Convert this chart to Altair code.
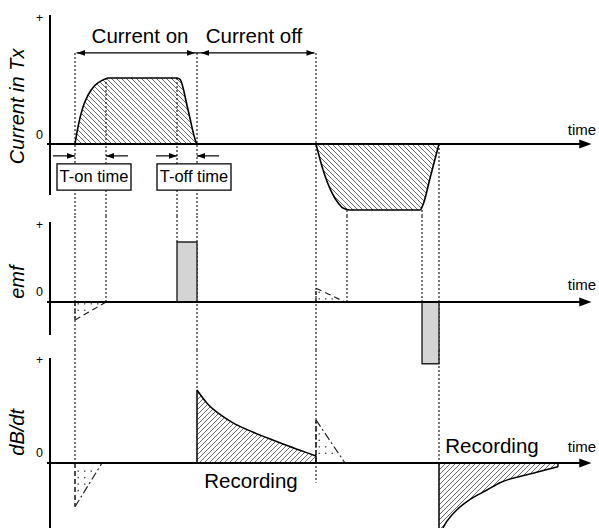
import altair as alt
import numpy as np
import pandas as pd

FONT = "Liberation Sans"
WIDTH = 599
T_DOMAIN = [-10.0, 109.8]                      # time axis origin sits 50 px from the left
KX = WIDTH / (T_DOMAIN[1] - T_DOMAIN[0])       # px per time unit

# panel: (height px, zero line offset from panel top px, px per amplitude unit)
PANELS = {"current": (216, 144, 66.0), "emf": (134, 86, 60.0), "dbdt": (178, 113, 73.0)}

# switching instants
T1, T2, T3, T4 = 5.0, 11.2, 25.4, 29.4
T5, T6, T7, T8 = 53.2, 59.4, 74.4, 77.8

# transmitter current
cur_pos_t = [5.0, 5.6, 6.6, 7.6, 9.0, 10.6, 11.6, 25.4, 26.0, 27.6, 29.2, 29.4]
cur_pos_v = [0.0, 0.26, 0.56, 0.74, 0.89, 0.97, 1.0, 1.0, 0.98, 0.52, 0.03, 0.0]
cur_neg_t = [53.2, 54.6, 56.4, 57.6, 58.6, 60.0, 74.0, 74.6, 76.0, 77.8]
cur_neg_v = [0.0, -0.39, -0.74, -0.89, -0.97, -1.0, -1.0, -0.92, -0.52, 0.0]

# induced emf pulses during the switch-off ramps
emf_bar_t0 = [T3, T7]
emf_bar_t1 = [T4, T8]
emf_bar_v = [1.0, -1.03]

# dB/dt decays after switch-off
dbdt_pos_t = [29.4, 31.4, 34.0, 36.6, 40.0, 43.4, 46.6, 50.0, 53.2]
dbdt_pos_v = [1.0, 0.82, 0.665, 0.55, 0.44, 0.345, 0.26, 0.175, 0.095]
dbdt_neg_t = [77.8, 79.0, 81.4, 84.0, 87.4, 90.0, 96.6, 101.6]
dbdt_neg_v = [-1.0, -0.84, -0.64, -0.50, -0.37, -0.27, -0.14, -0.05]

# small transients during the switch-on ramps (t, v of the three corners)
emf_tri = [([T1, T1, T2], [0.0, -0.30, 0.0]), ([T5, T5, 59.0], [0.0, 0.23, 0.0])]
dbdt_tri = [([T1, T1, 10.4], [0.0, -0.60, 0.0]), ([T5, T5, 59.0], [0.0, 0.59, 0.0])]

# labels
panel_titles = ["Current in Tx", "emf", "dB/dt"]
title_v = [0.57, 0.33, 0.42]
plus_v = [1.91, 1.28, 1.41]
zero_v = [0.136, 0.17, 0.137]
time_v = [0.21, 0.28, 0.22]
axis_top = [1.955, 1.333, 1.438]
axis_bottom = [-0.773, -0.55, -0.89]

span_labels = ["Current on", "Current off"]
span_label_t = [18.0, 40.8]
box_labels = ["T-on time", "T-off time"]
box_t0 = [1.4, 21.4]
box_t1 = [16.2, 36.2]
recording_t = [40.2, 88.4]
recording_v = [-0.26, 0.22]

ARROW_R = "M0,0L-1,-0.36L-1,0.36Z"
ARROW_L = "M0,0L1,-0.36L1,0.36Z"


def ydom(name):
    h, z, k = PANELS[name]
    return [(z - h) / k, z / k]


def X(field):
    return alt.X(field, type="quantitative", axis=None,
                 scale=alt.Scale(domain=T_DOMAIN, nice=False, zero=False))


def Y(field, name):
    return alt.Y(field, type="quantitative", axis=None,
                 scale=alt.Scale(domain=ydom(name), nice=False, zero=False))


def segs(rows):
    return pd.DataFrame(rows, columns=["t0", "v0", "t1", "v1"])


def rules(df, name, **props):
    return alt.Chart(df).mark_rule(**props).encode(
        x=X("t0"), x2=alt.X2("t1"), y=Y("v0", name), y2=alt.Y2("v1"))


def line(ts, vs, name, **props):
    df = pd.DataFrame({"t": ts, "v": vs, "i": range(len(ts))})
    return alt.Chart(df).mark_line(**props).encode(
        x=X("t"), y=Y("v", name), order="i:Q")


def texts(ts, vs, labels, name, **props):
    df = pd.DataFrame({"t": ts, "v": vs, "label": labels})
    return alt.Chart(df).mark_text(font=FONT, color="black", **props).encode(
        x=X("t"), y=Y("v", name), text="label:N")


def heads(ts, vs, dirs, name, size=256):
    df = pd.DataFrame({"t": ts, "v": vs, "dir": dirs})
    return alt.Chart(df).mark_point(filled=True, color="black", opacity=1, size=size,
                                    strokeWidth=0).encode(
        x=X("t"), y=Y("v", name),
        shape=alt.Shape("dir:N", legend=None,
                        scale=alt.Scale(domain=["r", "l"], range=[ARROW_R, ARROW_L])))


def hatch(ts, vs, name, slope, step=5.0):
    """Diagonal hatch segments filling the region between a curve and zero."""
    ky = PANELS[name][2]
    ts = np.asarray(ts, float)
    vs = np.asarray(vs, float)
    xs = (ts - ts[0]) * KX
    hs = vs * ky
    grid = np.linspace(0.0, xs[-1], int(xs[-1] / 0.2) + 2)
    f = np.interp(grid, xs, hs)
    lo, hi = np.minimum(f, 0), np.maximum(f, 0)
    reach = xs[-1] + np.abs(hs).max()
    rows = []
    for c in np.arange(-reach, reach + step, step):
        h = slope * grid + c
        inside = (h >= lo) & (h <= hi)
        if not inside.any():
            continue
        edges = np.diff(np.concatenate([[0], inside.astype(int), [0]]))
        starts = np.where(edges == 1)[0]
        ends = np.where(edges == -1)[0] - 1
        for a, b in zip(starts, ends):
            if b - a < 2:
                continue
            rows.append((ts[0] + grid[a] / KX, h[a] / ky, ts[0] + grid[b] / KX, h[b] / ky))
    return segs(rows)


def stipple(tri_t, tri_v, name, step=6.5):
    """Sparse dots inside a triangle."""
    ky = PANELS[name][2]
    p = np.array([[t * KX, v * ky] for t, v in zip(tri_t, tri_v)])
    x0, y0 = p.min(axis=0)
    x1, y1 = p.max(axis=0)
    pts = []
    m = np.array([p[1] - p[0], p[2] - p[0]]).T
    for gy in np.arange(y0 + step / 2, y1, step):
        for gx in np.arange(x0 + step / 2, x1, step):
            u, w = np.linalg.solve(m, np.array([gx, gy]) - p[0])
            if u > 0.08 and w > 0.08 and u + w < 0.85:
                pts.append((gx / KX, gy / ky))
    df = pd.DataFrame(pts, columns=["t", "v"])
    return alt.Chart(df).mark_point(filled=True, color="#555", size=3, opacity=1).encode(
        x=X("t"), y=Y("v", name))


def frame(name, idx):
    """Axes, +/0 marks, time arrow and panel title."""
    return [
        rules(segs([(0.0, axis_top[idx], 0.0, axis_bottom[idx])]), name,
              color="black", strokeWidth=2),
        rules(segs([(-0.6, 0.0, 106.0, 0.0)]), name, color="black", strokeWidth=2),
        heads([108.3], [0.0], ["r"], name, size=600),
        texts([-2.1], [plus_v[idx]], ["+"], name, fontSize=12),
        texts([-2.1], [zero_v[idx]], ["0"], name, fontSize=12.5),
        texts([106.4], [time_v[idx]], ["time"], name, fontSize=15),
        texts([-6.4], [title_v[idx]], [panel_titles[idx]], name, fontSize=20,
              fontStyle="italic", angle=270),
    ]


def dotted(rows, name):
    return rules(segs(rows), name, color="#222", strokeWidth=1.2, strokeDash=[2, 2])


# ---------------- current in the transmitter loop ----------------
cur_lo = ydom("current")[0]
top = alt.layer(
    rules(hatch(cur_pos_t, cur_pos_v, "current", -1), "current", color="#6a6a6a", strokeWidth=1),
    rules(hatch(cur_neg_t, cur_neg_v, "current", -1), "current", color="#6a6a6a", strokeWidth=1),
    dotted([(T1, 1.38, T1, cur_lo), (T2, 1.0, T2, cur_lo), (T3, 1.0, T3, cur_lo),
            (T4, 1.38, T4, cur_lo), (T5, 1.38, T5, cur_lo), (T6, -1.0, T6, cur_lo),
            (T7, -1.0, T7, cur_lo), (T8, 0.0, T8, cur_lo)], "current"),
    line(cur_pos_t, cur_pos_v, "current", color="black", strokeWidth=1.6,
         interpolate="monotone"),
    line(cur_neg_t, cur_neg_v, "current", color="black", strokeWidth=1.6,
         interpolate="monotone"),
    *frame("current", 0),
    # current on / current off spans
    rules(segs([(T1 + 0.3, 1.38, T5 - 0.3, 1.38)]), "current", color="black", strokeWidth=1.2),
    heads([T1 + 0.4, T4 - 0.4, T4 + 0.8, T5 - 0.3], [1.38] * 4, ["l", "r", "l", "r"], "current"),
    texts(span_label_t, [1.62, 1.62], span_labels, "current", fontSize=20.5),
    # ramp duration markers
    rules(segs([(0.6, -0.18, T1, -0.18), (T2, -0.18, 15.6, -0.18),
                (21.2, -0.18, T3, -0.18), (T4, -0.18, 33.8, -0.18)]), "current",
          color="black", strokeWidth=1.2),
    heads([T1, T2, T3, T4], [-0.18] * 4, ["r", "l", "r", "l"], "current"),
    alt.Chart(pd.DataFrame({"t0": box_t0, "t1": box_t1, "v0": [-0.30] * 2, "v1": [-0.70] * 2}))
    .mark_rect(fill="white", stroke="black", strokeWidth=1.3)
    .encode(x=X("t0"), x2=alt.X2("t1"), y=Y("v0", "current"), y2=alt.Y2("v1")),
    texts([(a + b) / 2 for a, b in zip(box_t0, box_t1)], [-0.50, -0.50], box_labels,
          "current", fontSize=16.5),
).properties(width=WIDTH, height=PANELS["current"][0])

# ---------------- emf in the receiver ----------------
emf_lo, emf_hi = ydom("emf")
mid_layers = [
    dotted([(T1, emf_hi, T1, emf_lo), (T2, emf_hi, T2, 0.0), (T3, emf_hi, T3, 1.0),
            (T4, emf_hi, T4, emf_lo), (T5, emf_hi, T5, emf_lo), (T6, emf_hi, T6, 0.0),
            (T7, emf_hi, T7, 0.0), (T8, emf_hi, T8, emf_lo)], "emf"),
    alt.Chart(pd.DataFrame({"t0": emf_bar_t0, "t1": emf_bar_t1, "v": emf_bar_v,
                            "base": [0.0, 0.0]}))
    .mark_rect(fill="#d4d4d4", stroke="#222", strokeWidth=1.4)
    .encode(x=X("t0"), x2=alt.X2("t1"), y=Y("v", "emf"), y2=alt.Y2("base")),
]
for tt, vv in emf_tri:
    mid_layers.append(stipple(tt, vv, "emf"))
    mid_layers.append(rules(segs([(tt[1], vv[1], tt[2], vv[2])]), "emf", color="#222",
                            strokeWidth=1.2, strokeDash=[6, 4]))
    mid_layers.append(rules(segs([(tt[0], vv[0], tt[1], vv[1])]), "emf", color="#222",
                            strokeWidth=1.4, strokeDash=[4, 3]))
mid = alt.layer(*mid_layers, *frame("emf", 1)).properties(
    width=WIDTH, height=PANELS["emf"][0])

# ---------------- dB/dt ----------------
db_lo, db_hi = ydom("dbdt")
bot_layers = [
    rules(hatch(dbdt_pos_t, dbdt_pos_v, "dbdt", 1), "dbdt", color="#6a6a6a", strokeWidth=1),
    rules(hatch(dbdt_neg_t, dbdt_neg_v, "dbdt", 1), "dbdt", color="#6a6a6a", strokeWidth=1),
    dotted([(T1, db_hi, T1, 0.0), (T4, db_hi, T4, 1.0), (T5, db_hi, T5, -0.27),
            (T8, db_hi, T8, 0.0)], "dbdt"),
    # decay curves and the vertical switch-off edges
    line(dbdt_pos_t, dbdt_pos_v, "dbdt", color="black", strokeWidth=1.5,
         interpolate="monotone"),
    line(dbdt_neg_t, dbdt_neg_v, "dbdt", color="black", strokeWidth=1.5,
         interpolate="monotone"),
    rules(segs([(dbdt_pos_t[0], 0.0, dbdt_pos_t[0], dbdt_pos_v[0]),
                (dbdt_pos_t[-1], 0.0, dbdt_pos_t[-1], dbdt_pos_v[-1]),
                (dbdt_neg_t[0], 0.0, dbdt_neg_t[0], dbdt_neg_v[0]),
                (dbdt_neg_t[-1], 0.0, dbdt_neg_t[-1], dbdt_neg_v[-1])]), "dbdt",
          color="black", strokeWidth=1.5),
]
for tt, vv in dbdt_tri:
    bot_layers.append(stipple(tt, vv, "dbdt"))
    bot_layers.append(rules(segs([(tt[1], vv[1], tt[2], vv[2])]), "dbdt", color="#222",
                            strokeWidth=1.2, strokeDash=[8, 3, 2, 3]))
    bot_layers.append(rules(segs([(tt[0], vv[0], tt[1], vv[1])]), "dbdt", color="#222",
                            strokeWidth=1.6, strokeDash=[5, 3]))
bot_layers.append(texts(recording_t, recording_v, ["Recording", "Recording"], "dbdt",
                        fontSize=20.5))
bot = alt.layer(*bot_layers, *frame("dbdt", 2)).properties(
    width=WIDTH, height=PANELS["dbdt"][0])

chart = (
    alt.vconcat(top, mid, bot, spacing=0, bounds="flush")
    .properties(padding=0, background="white")
    .configure_view(strokeWidth=0)
)

chart.save("out.html", embed_options={"renderer": "svg", "actions": False})
